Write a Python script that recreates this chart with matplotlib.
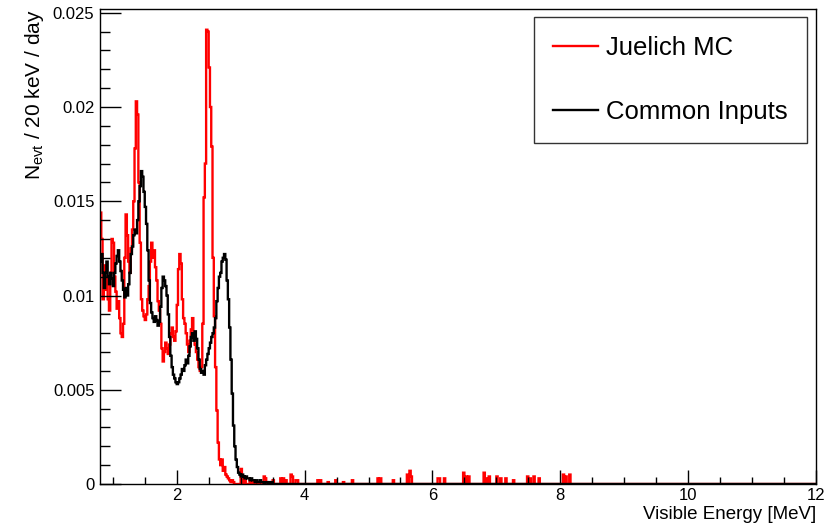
import numpy as np
import matplotlib
matplotlib.use("Agg")
import matplotlib.pyplot as plt
from matplotlib.ticker import MultipleLocator

plt.rcParams["font.family"] = ["Liberation Sans", "DejaVu Sans"]
plt.rcParams["mathtext.fontset"] = "custom"
plt.rcParams["mathtext.rm"] = "Liberation Sans"

E_MIN, E_MAX, BIN_W = 0.8, 12.0, 0.02

# Juelich MC, 20 keV bins starting at 0.80 MeV
juelich_main = [
    0.0144, 0.0130, 0.0098, 0.0116, 0.0103, 0.0110, 0.0098, 0.0092, 0.0112, 0.0130,
    0.0128, 0.0110, 0.0102, 0.0093, 0.0097, 0.0088, 0.0080, 0.0078, 0.0085, 0.0120,
    0.0143, 0.0132, 0.0118, 0.0112, 0.0125, 0.0135, 0.0150, 0.0178, 0.0203, 0.0196,
    0.0160, 0.0128, 0.0098, 0.0092, 0.0089, 0.0087, 0.0090, 0.0098, 0.0105, 0.0118,
    0.0128, 0.0120, 0.0124, 0.0115, 0.0108, 0.0097, 0.0092, 0.0085, 0.0072, 0.0065,
    0.0070, 0.0075, 0.0072, 0.0069, 0.0074, 0.0080, 0.0083, 0.0078, 0.0076, 0.0081,
    0.0095, 0.0114, 0.0122, 0.0117, 0.0098, 0.0088, 0.0085, 0.0080, 0.0074, 0.0070,
    0.0076, 0.0082, 0.0088, 0.0078, 0.0074, 0.0070, 0.0066, 0.0062, 0.0060, 0.0062,
    0.0085, 0.0152, 0.0170, 0.0241, 0.0240, 0.0221, 0.0200, 0.0179, 0.0120, 0.0089,
    0.0062, 0.0039, 0.0022, 0.0013, 0.0010, 0.0013, 0.0007, 0.0009, 0.0005, 0.0004,
    0.0003, 0.0002, 0.0001, 0.0002, 0.0001,
]
# scattered small entries above 2.9 MeV
juelich_tail_energy = [
    3.00, 3.02, 3.06, 3.14, 3.18, 3.36, 3.38, 3.50, 3.62, 3.66, 3.70, 3.78, 3.80,
    3.86, 3.88, 4.20, 4.24, 4.36, 4.48, 4.60, 4.74, 5.14, 5.18, 5.38, 5.60, 5.64,
    5.66, 6.08, 6.10, 6.18, 6.48, 6.52, 6.56, 6.80, 6.84, 6.88, 7.00, 7.06, 7.14,
    7.26, 7.48, 7.52, 7.58, 7.66, 8.04, 8.08, 8.14,
]
juelich_tail_value = [
    0.0008, 0.0003, 0.0002, 0.0002, 0.0002, 0.0004, 0.0003, 0.0002, 0.0003, 0.0003,
    0.0002, 0.0005, 0.0004, 0.0002, 0.0002, 0.0002, 0.0002, 0.0001, 0.0002, 0.0001,
    0.0002, 0.0003, 0.0003, 0.0002, 0.0005, 0.0007, 0.0004, 0.0003, 0.0003, 0.0003,
    0.0006, 0.0004, 0.0004, 0.0006, 0.0003, 0.0004, 0.0004, 0.0003, 0.0003, 0.0002,
    0.0004, 0.0003, 0.0004, 0.0003, 0.0005, 0.0004, 0.0005,
]

# Common Inputs, 20 keV bins starting at 0.80 MeV
common_main = [
    0.0118, 0.0122, 0.0112, 0.0104, 0.0112, 0.0118, 0.0110, 0.0106, 0.0112, 0.0109,
    0.0105, 0.0112, 0.0117, 0.0121, 0.0124, 0.0118, 0.0113, 0.0108, 0.0103, 0.0099,
    0.0104, 0.0100, 0.0106, 0.0112, 0.0122, 0.0126, 0.0132, 0.0135, 0.0133, 0.0140,
    0.0150, 0.0158, 0.0166, 0.0163, 0.0155, 0.0147, 0.0138, 0.0124, 0.0108, 0.0096,
    0.0091, 0.0088, 0.0086, 0.0089, 0.0087, 0.0084, 0.0086, 0.0094, 0.0104, 0.0110,
    0.0108, 0.0105, 0.0100, 0.0090, 0.0078, 0.0068, 0.0062, 0.0058, 0.0056, 0.0054,
    0.0053, 0.0054, 0.0056, 0.0058, 0.0061, 0.0060, 0.0063, 0.0066, 0.0064, 0.0068,
    0.0073, 0.0078, 0.0080, 0.0076, 0.0081, 0.0077, 0.0072, 0.0066, 0.0061, 0.0059,
    0.0060, 0.0058, 0.0063, 0.0066, 0.0069, 0.0072, 0.0075, 0.0078, 0.0080, 0.0083,
    0.0088, 0.0097, 0.0104, 0.0110, 0.0112, 0.0118, 0.0120, 0.0122, 0.0119, 0.0108,
    0.0098, 0.0083, 0.0066, 0.0048, 0.0031, 0.0020, 0.0013, 0.0009, 0.0006, 0.0005,
    0.0004, 0.0005, 0.0004, 0.0003, 0.0004, 0.0003, 0.0003, 0.0002, 0.0003, 0.0002,
    0.0002, 0.0001, 0.0002, 0.0001, 0.0001, 0.0002, 0.0001, 0.0001, 0.0000, 0.0001,
    0.0001, 0.0000, 0.0001, 0.0000, 0.0001, 0.0000,
]


def to_hist(main, tail_e=(), tail_v=()):
    n = int(round((E_MAX - E_MIN) / BIN_W))
    h = np.zeros(n)
    h[:len(main)] = main
    for e, v in zip(tail_e, tail_v):
        h[int(round((e - E_MIN) / BIN_W))] = v
    return h


juelich = to_hist(juelich_main, juelich_tail_energy, juelich_tail_value)
common = to_hist(common_main)
edges = E_MIN + BIN_W * np.arange(len(juelich) + 1)

fig = plt.figure(figsize=(8.36, 5.27), dpi=100)
ax = fig.add_axes([100 / 836, 43 / 527, 716 / 836, 475 / 527])

ax.stairs(juelich, edges, color="#ff0000", linewidth=1.7, baseline=None, label="Juelich MC")
ax.stairs(common, edges, color="black", linewidth=1.7, baseline=None, label="Common Inputs")

ax.set_xlim(E_MIN, E_MAX)
ax.set_ylim(0, 0.0252)

ax.xaxis.set_major_locator(MultipleLocator(2))
ax.xaxis.set_minor_locator(MultipleLocator(0.5))
ax.yaxis.set_minor_locator(MultipleLocator(0.001))
ax.set_yticks([0, 0.005, 0.01, 0.015, 0.02, 0.025])
ax.set_yticklabels(["0", "0.005", "0.01", "0.015", "0.02", "0.025"])

ax.tick_params(which="both", direction="in", top=False, right=False, labelsize=12, width=1)
ax.tick_params(axis="x", which="major", length=10, pad=3)
ax.tick_params(axis="x", which="minor", length=5)
ax.tick_params(axis="y", which="major", length=15, pad=4)
ax.tick_params(axis="y", which="minor", length=7.5)
for sp in ax.spines.values():
    sp.set_linewidth(1)

ax.set_xlabel("Visible Energy [MeV]", fontsize=13.5, loc="right")
ax.xaxis.set_label_coords(1.0, -0.046)
ax.set_ylabel(r"N$_{\mathrm{evt}}$ / 20 keV / day", fontsize=15, loc="top")
ax.yaxis.set_label_coords(-0.075, 1.0)

leg = ax.legend(loc="upper left", bbox_to_anchor=(534 / 836, 1 - 17 / 527),
                bbox_transform=fig.transFigure, fontsize=18.5, frameon=True,
                fancybox=False, borderpad=0.75, labelspacing=1.55,
                handlelength=1.75, handletextpad=0.3, borderaxespad=0)
leg.get_frame().set_edgecolor("black")
leg.get_frame().set_linewidth(1)

fig.savefig("out.png", dpi=100)
